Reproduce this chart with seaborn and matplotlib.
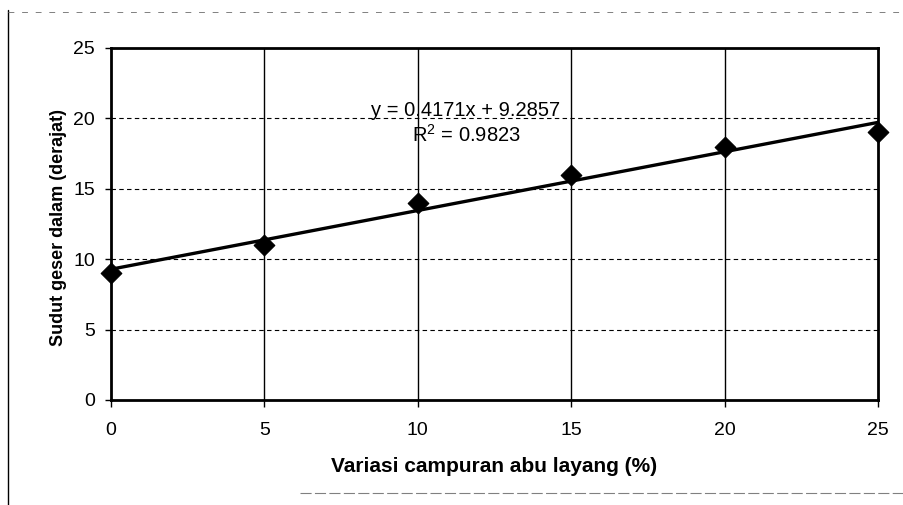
import numpy as np
import pandas as pd
import matplotlib
matplotlib.use("Agg")
import matplotlib.pyplot as plt
from matplotlib.lines import Line2D
import seaborn as sns

# data
variasi_abu = [0, 5, 10, 15, 20, 25]
sudut_geser = [9, 11, 14, 16, 18, 19]
x_ticks = [0, 5, 10, 15, 20, 25]
y_ticks = [0, 5, 10, 15, 20, 25]
eq_text = "y = 0.4171x + 9.2857"
r2_text = "R$^2$ = 0.9823"

df = pd.DataFrame({"variasi": variasi_abu, "sudut": sudut_geser})

sns.set_style("white")
plt.rcParams['font.family'] = ['Liberation Sans', 'DejaVu Sans']
plt.rcParams['mathtext.fontset'] = 'custom'
plt.rcParams['mathtext.rm'] = 'Liberation Sans'
plt.rcParams['text.color'] = 'black'
plt.rcParams['axes.labelcolor'] = 'black'
plt.rcParams['xtick.color'] = 'black'
plt.rcParams['ytick.color'] = 'black'

fig = plt.figure(figsize = (9.04, 5.05), dpi = 100)
ax = fig.add_axes([0.1228, 0.208, 0.8484, 0.697])

# gridlines
for yv in [5, 10, 15, 20]:
    ax.axhline(yv, color = 'black', lw = 0.8, ls = (0, (4, 3)), zorder = 1)
for xv in [5, 10, 15, 20]:
    ax.axvline(xv, color = 'black', lw = 1.0, zorder = 1)

sns.regplot(x = "variasi", y = "sudut", data = df, scatter = False, ci = None, ax = ax,
            line_kws = dict(color = 'black', lw = 2.4, zorder = 3))
sns.scatterplot(x = "variasi", y = "sudut", data = df, marker = 'D', s = 110, color = 'black',
                edgecolor = 'black', ax = ax, zorder = 4, clip_on = False)

ax.set_xlim(0, 25)
ax.set_ylim(0, 25)
ax.set_xticks(x_ticks)
ax.set_yticks(y_ticks)
ax.tick_params(axis = 'x', direction = 'out', length = 5, width = 1, pad = 11, labelsize = 14)
ax.tick_params(axis = 'y', direction = 'out', length = 4, width = 1, pad = 7.5, labelsize = 14)
ax.xaxis.set_ticks_position('bottom')
ax.yaxis.set_ticks_position('left')
for sp in ax.spines.values():
    sp.set_visible(True)
    sp.set_color('black')
    sp.set_linewidth(2.0)

ax.set_xlabel("Variasi campuran abu layang (%)", fontsize = 15, fontweight = 'bold')
ax.set_ylabel("Sudut geser dalam (derajat)", fontsize = 13, fontweight = 'bold')
ax.xaxis.set_label_coords(0.5, -0.162)
ax.yaxis.set_label_coords(-0.058, 0.49)

ax.text(11.57, 20.17, eq_text, fontsize = 14.5, ha = 'center', va = 'baseline', zorder = 5)
ax.text(11.6, 18.32, r2_text, fontsize = 14.5, ha = 'center', va = 'baseline', zorder = 5)

# outer chart frame remnants from the scan
fig.add_artist(Line2D([8 / 904, 8 / 904], [0, 1 - 10 / 505], transform = fig.transFigure,
                      color = 'black', lw = 1.0))
fig.add_artist(Line2D([8 / 904, 1], [1 - 12 / 505, 1 - 12 / 505], transform = fig.transFigure,
                      color = 'gray', lw = 0.7, ls = (0, (6, 8))))
fig.add_artist(Line2D([300 / 904, 1], [1 - 493 / 505, 1 - 493 / 505], transform = fig.transFigure,
                      color = 'gray', lw = 0.8, ls = (0, (10, 3))))

fig.savefig("out.png", dpi = 100)
